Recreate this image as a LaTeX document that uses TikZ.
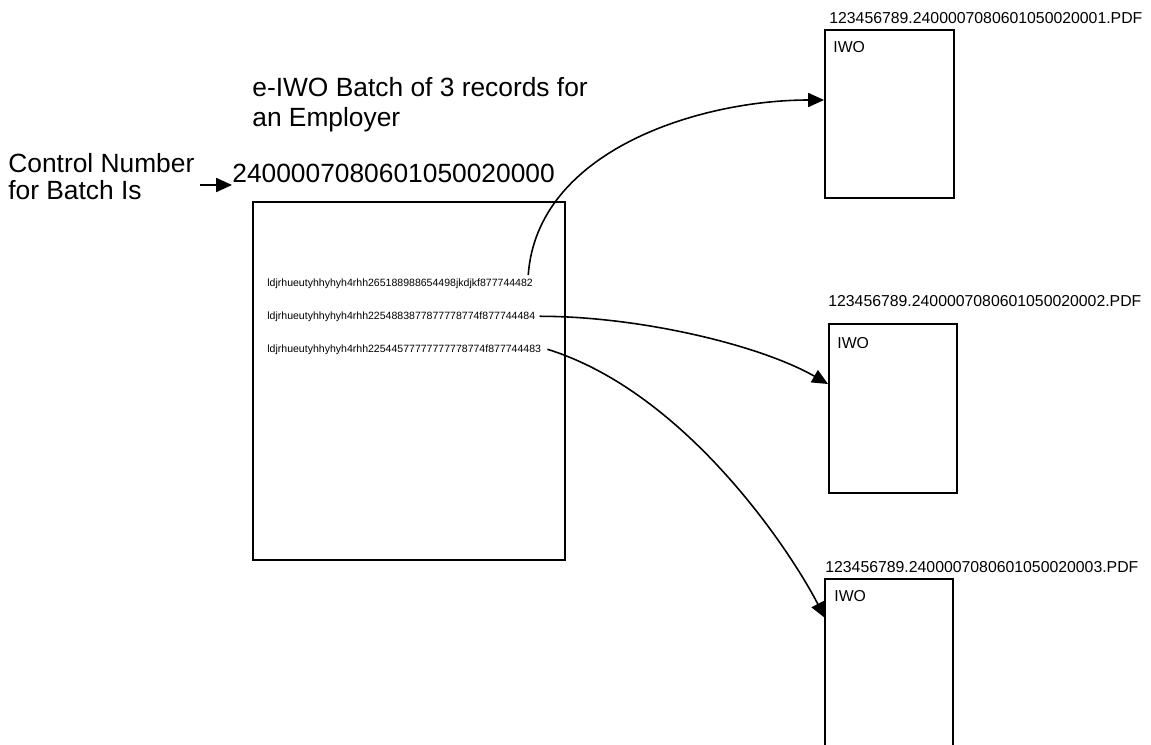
\documentclass[tikz,border=0pt]{standalone}
\usepackage{fontspec}
\setmainfont{Liberation Sans}
\usetikzlibrary{arrows.meta}
\tikzset{
  page/.style={draw, line width=1pt, anchor=north west, inner sep=0pt},
  link/.style={line width=0.9pt, -{Triangle[length=9pt,width=8pt]}},
  big/.style={font=\fontsize{15}{17}\selectfont, inner sep=0pt, anchor=base west, align=left},
  tiny/.style={font=\fontsize{6}{7}\selectfont, inner sep=0pt, anchor=base west},
  small/.style={font=\fontsize{9}{10}\selectfont, inner sep=0pt, anchor=base west}
}
\begin{document}
\begin{tikzpicture}[x=0.02cm, y=-0.02cm]
    \useasboundingbox (0,0) rectangle (1151,744);

    % batch of records
    \node[big] (title) at (252,126) {e-IWO Batch of 3 records for\\an Employer};
    \node[big, font=\fontsize{15}{15.3}\selectfont] (ctrl) at (8,199) {Control Number\\for Batch Is};
    \node[big] (num) at (232,182) {2400007080601050020000};
    \node[page, minimum width=6.24cm, minimum height=7.16cm] (batch) at (252,201) {};
    \node[tiny] (rec1) at (267,286) {ldjrhueutyhhyhyh4rhh265188988654498jkdjkf877744482};
    \node[tiny] (rec2) at (267,319) {ldjrhueutyhhyhyh4rhh2254883877877778774f877744484};
    \node[tiny] (rec3) at (267,352) {ldjrhueutyhhyhyh4rhh22544577777777778774f877744483};

    % the three files
    \node[page, minimum width=2.58cm, minimum height=3.36cm] (iwo1) at (824,29) {};
    \node[page, minimum width=2.56cm, minimum height=3.38cm] (iwo2) at (828,323) {};
    \node[page, minimum width=2.56cm, minimum height=3.70cm] (iwo3) at (824,578) {};
    \node[small] (file1) at (829,23) {123456789.2400007080601050020001.PDF};
    \node[small] (file2) at (828,306) {123456789.2400007080601050020002.PDF};
    \node[small] (file3) at (825,572) {123456789.2400007080601050020003.PDF};
    \node[small] (lab1) at (833,52) {IWO};
    \node[small] (lab2) at (837,348) {IWO};
    \node[small] (lab3) at (834,601) {IWO};

    \coordinate (in1) at (824,100);
    \coordinate (in2) at (828,384);
    \coordinate (in3) at (825,618);

    \draw[link] (ctrl.east |- 0,185) ++(5,0) coordinate (c0) -- (num.west |- c0);
    \draw[link] (rec1.north east) ++(-5,-3) .. controls +(9,-125) and (700,100) .. (in1);
    \draw[link] (rec2.east) ++(4,0) .. controls +(100,0) and (760,345) .. (in2);
    \draw[link] (rec3.east) ++(6,0) .. controls +(138,43) and (790,550) .. (in3);
\end{tikzpicture}
\end{document}
